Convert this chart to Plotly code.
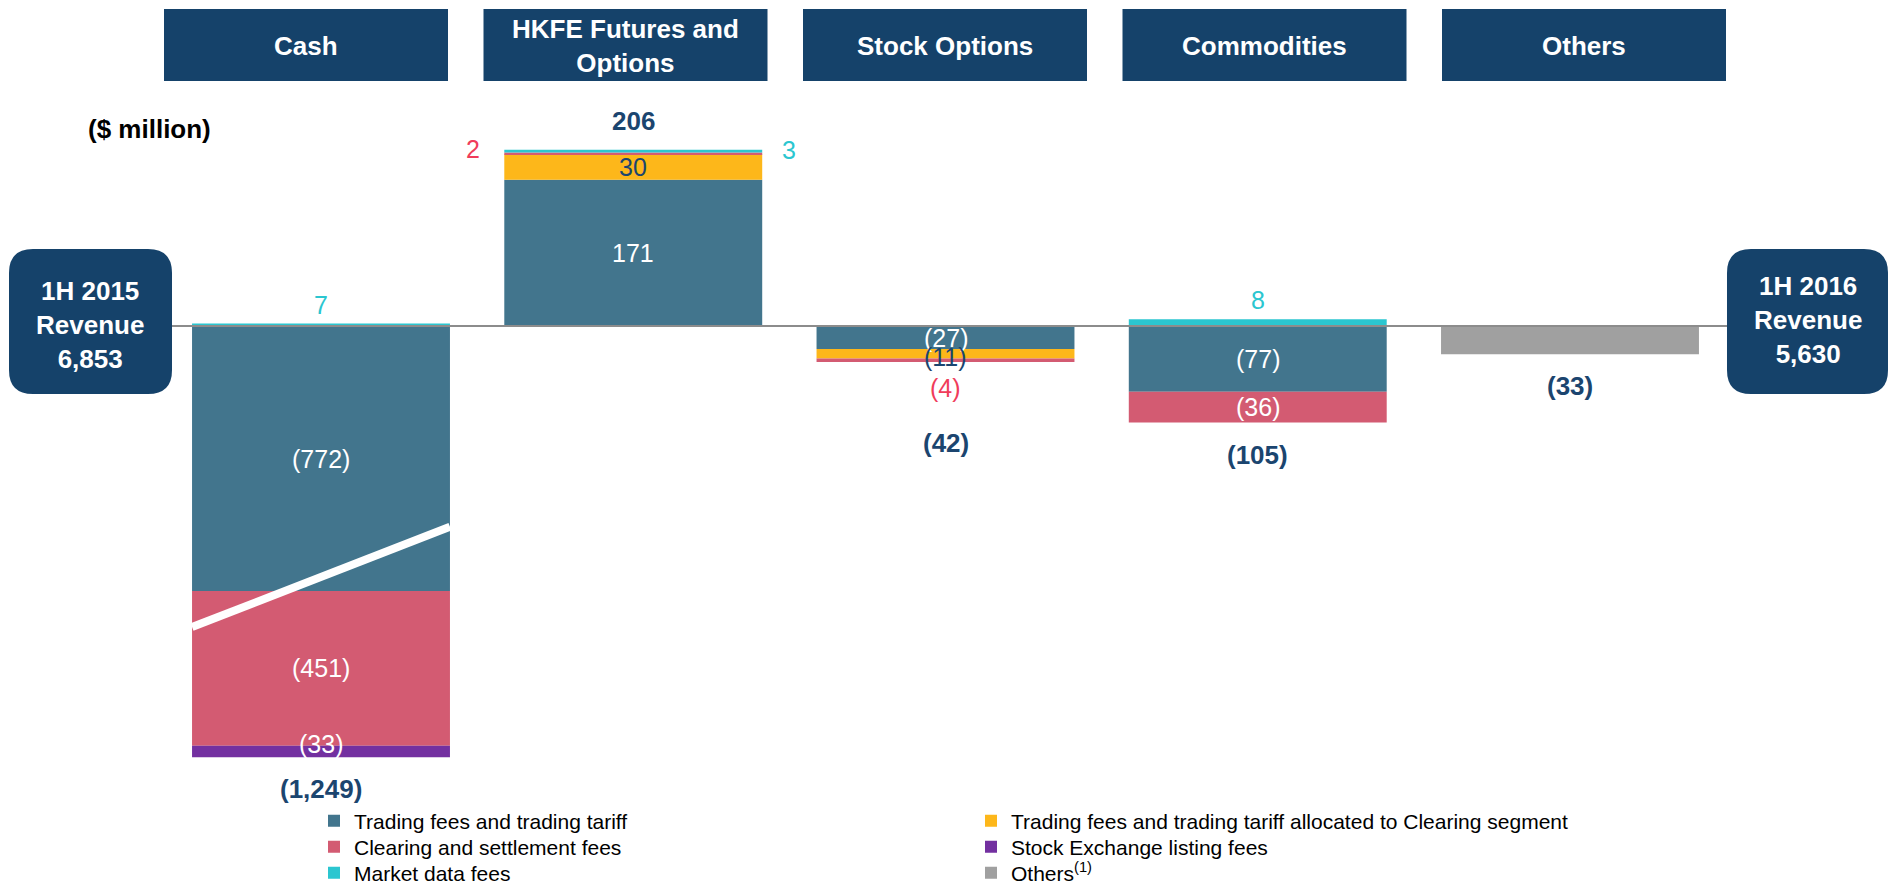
"""Cash / derivatives revenue bridge, 1H 2015 -> 1H 2016."""
import plotly.graph_objects as go

W, H = 1891, 886
FONT = "Arial, 'Liberation Sans', sans-serif"
NAVY = "#15426A"
LABEL_NAVY = "#1B456F"
TEAL = "#2BC6D0"
RED = "#F03C5A"

# ---- data ($ million) -------------------------------------------------------
CATEGORIES = ["Cash", "HKFE Futures and Options", "Stock Options", "Commodities", "Others"]
HEADERS = ["Cash", "HKFE Futures and<br>Options", "Stock Options", "Commodities", "Others"]

TRADING = [-772, 171, -27, -77, None]
ALLOCATED = [None, 30, -11, None, None]
CLEARING = [-451, 2, -4, -36, None]
LISTING = [-33, None, None, None, None]
MARKET_DATA = [7, 3, None, 8, None]
OTHERS = [None, None, None, None, -33]

START_LABEL, START_VALUE = "1H 2015", 6853
END_LABEL, END_VALUE = "1H 2016", 5630

SERIES = [
    ("Trading fees and trading tariff", TRADING, "#42758D"),
    ("Trading fees and trading tariff allocated to Clearing segment", ALLOCATED, "#FDB71A"),
    ("Clearing and settlement fees", CLEARING, "#D35B72"),
    ("Stock Exchange listing fees", LISTING, "#7330A0"),
    ("Market data fees", MARKET_DATA, TEAL),
    ("Others<sup>(1)</sup>", OTHERS, "#A0A0A0"),
]

# ---- layout helpers ------------------------------------------------------------
ZERO_PX = 326          # pixel row of the zero line
SCALE = 0.855          # px per $m for the normal bars
CASH_SCALE = 0.3433    # Cash bar is drawn on a broken (compressed) axis
CENTER0, STEP = 321, 312.25
HALF = 0.413           # half bar width in category units
LEGEND_ROWS = [821, 847, 873]   # legend row centres, two entries per row


def px(x, y):
    return x / W, 1 - y / H


def fmt(v):
    return f"({abs(v):,})" if v < 0 else f"{v:,}"


def rounded_box(x0, y0, x1, y1, r):
    def p(x, y):
        a, b = px(x, y)
        return f"{a:.5f},{b:.5f}"
    path = (
        f"M{p(x0 + r, y0)} L{p(x1 - r, y0)} Q{p(x1, y0)} {p(x1, y0 + r)} "
        f"L{p(x1, y1 - r)} Q{p(x1, y1)} {p(x1 - r, y1)} "
        f"L{p(x0 + r, y1)} Q{p(x0, y1)} {p(x0, y1 - r)} "
        f"L{p(x0, y0 + r)} Q{p(x0, y0)} {p(x0 + r, y0)} Z"
    )
    return dict(type="path", xref="paper", yref="paper", path=path,
                fillcolor=NAVY, line=dict(width=0), layer="above")


fig = go.Figure()
for rank, (name, vals, color) in enumerate(SERIES):
    legend_id = "legend" if rank < 2 else f"legend{rank // 2 + 1}"
    main_x = [c for c, v in zip(CATEGORIES[1:], vals[1:]) if v is not None]
    main_y = [v for v in vals[1:] if v is not None]
    has_main = len(main_y) > 0
    if has_main:
        fig.add_trace(go.Bar(
            x=main_x, y=main_y, name=name, marker=dict(color=color, line=dict(width=0)),
            legend=legend_id, legendgroup=name, legendrank=rank, yaxis="y",
            hoverinfo="skip",
        ))
    if vals[0] is not None:
        fig.add_trace(go.Bar(
            x=[CATEGORIES[0]], y=[vals[0]], name=name, showlegend=not has_main,
            marker=dict(color=color, line=dict(width=0)),
            legend=legend_id, legendgroup=name, legendrank=rank, yaxis="y2",
            hoverinfo="skip",
        ))

# ---- segment labels ----------------------------------------------------------
ann = []
pos = [0] * len(CATEGORIES)
neg = [0] * len(CATEGORIES)
for key, (name, vals, color) in enumerate(SERIES):
    for i, v in enumerate(vals):
        if v is None:
            continue
        base = pos[i] if v > 0 else neg[i]
        top = base + v
        if v > 0:
            pos[i] = top
        else:
            neg[i] = top
        yref = "y2" if i == 0 else "y"
        mid = base + v / 2
        a = dict(x=i, y=mid, yref=yref, xref="x", showarrow=False,
                 text=fmt(v), font=dict(family=FONT, size=25, color="white"))
        if key == 0:
            pass
        elif key == 1:
            a["font"]["color"] = LABEL_NAVY
            if v < 0:
                a["yshift"] = -3
        elif key == 2:
            if i == 1:
                a.update(x=i - HALF, xanchor="right", xshift=-22, yshift=4)
                a["font"]["color"] = RED
            elif i == 2:
                a.update(y=top, yanchor="top", yshift=-10)
                a["font"]["color"] = RED
        elif key == 3:
            a["yshift"] = 8
        elif key == 4:
            a["font"]["color"] = TEAL
            if i == 1:
                a.update(x=i + HALF, xanchor="left", xshift=18, yshift=1)
            else:
                a.update(y=top, yanchor="bottom", yshift=3)
        else:
            continue
        ann.append(a)

# totals under / above each bar
for i in range(len(CATEGORIES)):
    total = pos[i] + neg[i]
    yref = "y2" if i == 0 else "y"
    if total > 0:
        a = dict(y=pos[i], yanchor="bottom", yshift=12)
    else:
        a = dict(y=neg[i], yanchor="top", yshift=-64 if i == 2 else -15)
    a.update(x=i, xref="x", yref=yref, showarrow=False, text=f"<b>{fmt(total)}</b>",
             font=dict(family=FONT, size=26, color=LABEL_NAVY))
    ann.append(a)

# ---- headers, end boxes, decorations -------------------------------------------
shapes = []
for i, h in enumerate(HEADERS):
    left = 164 + 319.5 * i
    x0, y0 = px(left, 9)
    x1, y1 = px(left + 284, 81)
    shapes.append(dict(type="rect", xref="paper", yref="paper", x0=x0, x1=x1, y0=y1, y1=y0,
                       fillcolor=NAVY, line=dict(width=0)))
    cx, cy = px(left + 142, 46)
    ann.append(dict(x=cx, y=cy, xref="paper", yref="paper", xanchor="center",
                    yanchor="middle", showarrow=False, text=f"<b>{h}</b>",
                    font=dict(family=FONT, size=26, color="white")))

shapes.append(rounded_box(9, 249, 172, 394, 24))
shapes.append(rounded_box(1727, 249, 1888, 394, 24))
for (cx, cy, label, value) in [(90, 325, START_LABEL, START_VALUE),
                               (1808, 320, END_LABEL, END_VALUE)]:
    x, y = px(cx, cy)
    ann.append(dict(x=x, y=y, xref="paper", yref="paper", xanchor="center",
                    yanchor="middle", showarrow=False,
                    text=f"<b>{label}<br>Revenue<br>{value:,}</b>",
                    font=dict(family=FONT, size=26, color="white")))

x, y = px(86, 129)
ann.append(dict(x=x, y=y, xref="paper", yref="paper", xanchor="left", yanchor="middle",
                showarrow=False, text="<b>($ million)</b>",
                font=dict(family=FONT, size=26, color="black")))

# zero line between the two revenue boxes
shapes.append(dict(type="line", xref="paper", yref="y", x0=172 / W, x1=1727 / W, y0=0, y1=0,
                   line=dict(color="#8C8C8C", width=2), layer="above"))
# axis-break slash across the Cash bar
shapes.append(dict(type="line", xref="x", yref="y2", x0=-HALF, x1=HALF, y0=-877, y1=-585,
                   line=dict(color="white", width=8), layer="above"))

legend_style = dict(orientation="h", x=314 / W, xanchor="left", yanchor="middle",
                    traceorder="normal", entrywidth=612, entrywidthmode="pixels",
                    font=dict(family=FONT, size=21, color="black"),
                    bgcolor="rgba(0,0,0,0)")
legends = {}
for r, row_y in enumerate(LEGEND_ROWS):
    key = "legend" if r == 0 else f"legend{r + 1}"
    legends[key] = dict(legend_style, y=1 - row_y / H)

fig.update_layout(
    width=W, height=H,
    margin=dict(l=0, r=0, t=0, b=0, autoexpand=False),
    paper_bgcolor="white", plot_bgcolor="white",
    barmode="relative", bargap=0.174,
    font=dict(family=FONT),
    xaxis=dict(type="category", categoryarray=CATEGORIES, categoryorder="array",
               range=[-CENTER0 / STEP, (W - CENTER0) / STEP], visible=False, fixedrange=True),
    yaxis=dict(range=[-(H - ZERO_PX) / SCALE, ZERO_PX / SCALE], visible=False, fixedrange=True),
    yaxis2=dict(range=[-(H - ZERO_PX) / CASH_SCALE, ZERO_PX / CASH_SCALE], overlaying="y",
                visible=False, fixedrange=True),
    shapes=shapes,
    annotations=ann,
    showlegend=True,
    **legends,
)

fig.write_html("out.html", config={"displayModeBar": False},
               post_script="document.body.style.margin='0px';")
